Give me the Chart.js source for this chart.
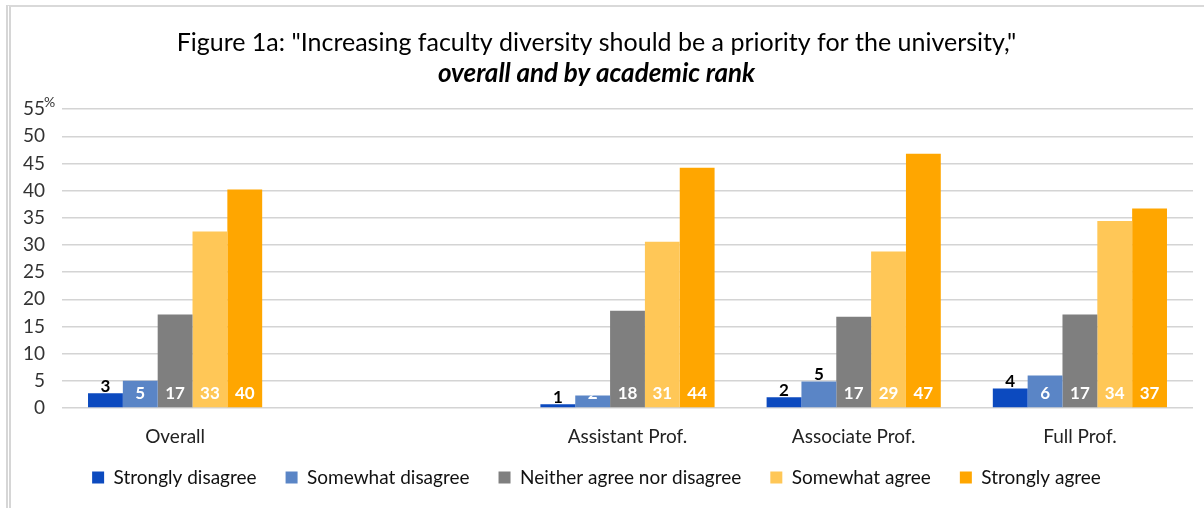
<!DOCTYPE html>
<html>
<head>
<meta charset="utf-8">
<script src="https://cdn.jsdelivr.net/npm/chart.js@4"></script>
<style>
  body { margin: 0; background: #fff; }
  #wrap { position: relative; width: 1204px; height: 508px; overflow: hidden; }
  #frame { position: absolute; left: 6px; top: 5px; right: -20px; bottom: -20px;
           border-top: 2px solid #d9d9d9; border-left: 5px double #d6d6d6; pointer-events: none; }
  canvas { position: absolute; left: 0; top: 0; }
</style>
</head>
<body>
<div id="wrap">
  <canvas id="c" width="1204" height="508"></canvas>
  <div id="frame"></div>
</div>
<script>
// groups along the x axis (blank slot separates Overall from the ranks)
const categories = ["Overall", "", "Assistant Prof.", "Associate Prof.", "Full Prof."];
const responses = ["Strongly disagree", "Somewhat disagree", "Neither agree nor disagree", "Somewhat agree", "Strongly agree"];

// percent of respondents
const stronglyDisagree = [2.7, null, 0.7, 2.0, 3.6];
const somewhatDisagree = [5.0, null, 2.3, 4.9, 6.0];
const neitherAgree     = [17.2, null, 17.9, 16.8, 17.2];
const somewhatAgree    = [32.5, null, 30.6, 28.8, 34.4];
const stronglyAgree    = [40.2, null, 44.2, 46.8, 36.7];

const yTicks = [0, 5, 10, 15, 20, 25, 30, 35, 40, 45, 50, 55];

const colors = ["#0c4abf", "#5a85c6", "#7f7f7f", "#ffc757", "#ffa600"];
const FONT = "Lato, 'Open Sans', sans-serif";

const series = [stronglyDisagree, somewhatDisagree, neitherAgree, somewhatAgree, stronglyAgree];

// value labels: small bars get a dark label on top, the rest a white one at the base
const labelAbove = (ds, i) => ds === 0 || (ds === 1 && i === 3);

const barLabels = {
  id: "barLabels",
  afterDatasetsDraw(chart) {
    const ctx = chart.ctx;
    ctx.save();
    ctx.font = "bold 17px " + FONT;
    ctx.textAlign = "center";
    chart.data.datasets.forEach((ds, di) => {
      const meta = chart.getDatasetMeta(di);
      meta.data.forEach((bar, i) => {
        const v = ds.data[i];
        if (v == null) return;
        const txt = String(Math.round(v));
        if (labelAbove(di, i)) {
          ctx.fillStyle = "#000";
          ctx.textBaseline = "alphabetic";
          ctx.fillText(txt, bar.x, bar.y - 1);
        } else {
          ctx.save();
          ctx.beginPath();
          ctx.rect(bar.x - bar.width / 2, bar.y, bar.width, bar.base - bar.y);
          ctx.clip();
          ctx.fillStyle = "#fff";
          ctx.textBaseline = "middle";
          ctx.fillText(txt, bar.x, bar.base - 14);
          ctx.restore();
        }
      });
    });
    ctx.restore();
  }
};

// small "%" next to the top tick
const percentMark = {
  id: "percentMark",
  afterDraw(chart) {
    const y = chart.scales.y;
    const ctx = chart.ctx;
    ctx.save();
    ctx.font = "14px " + FONT;
    ctx.fillStyle = "#333";
    ctx.textAlign = "left";
    ctx.textBaseline = "middle";
    ctx.fillText("%", 44, y.getPixelForValue(55) - 7);
    ctx.restore();
  }
};

// pull the legend row up a little, closer to the category labels
const legendLift = {
  id: "legendLift",
  afterLayout(chart) {
    const lg = chart.legend;
    if (!lg) return;
    lg.top -= 10;
    lg.bottom -= 10;
  }
};

new Chart(document.getElementById("c"), {
  type: "bar",
  data: {
    labels: categories,
    datasets: series.map((d, k) => ({
      label: responses[k],
      data: d,
      backgroundColor: colors[k],
      borderWidth: 0,
      barPercentage: 1,
      categoryPercentage: 0.77
    }))
  },
  options: {
    responsive: false,
    animation: false,
    layout: { padding: { left: 0, right: 11, top: 0, bottom: 1 } },
    plugins: {
      tooltip: { enabled: false },
      title: {
        display: true,
        text: 'Figure 1a: "Increasing faculty diversity should be a priority for the university,"',
        color: "#000",
        font: { family: FONT, size: 25, weight: "normal" },
        padding: { top: 28, bottom: 0 }
      },
      subtitle: {
        display: true,
        text: "overall and by academic rank",
        color: "#000",
        font: { family: FONT, size: 26, weight: "bold", style: "italic" },
        padding: { top: 0, bottom: 20 }
      },
      legend: {
        position: "bottom",
        labels: {
          color: "#111",
          font: { family: FONT, size: 19 },
          boxWidth: 12,
          boxHeight: 12,
          padding: 29
        }
      }
    },
    scales: {
      x: {
        afterFit(scale) { scale.height = 41; },
        grid: { display: false, drawTicks: false },
        border: { display: false },
        ticks: { color: "#222", font: { family: FONT, size: 19 }, padding: 17, maxRotation: 0 }
      },
      y: {
        min: 0,
        max: 55,
        afterBuildTicks(scale) { scale.ticks = yTicks.map(v => ({ value: v })); },
        afterFit(scale) { scale.width = 62; },
        grid: { color: "#d4d4d4", lineWidth: 1.5, drawTicks: false },
        border: { display: false },
        ticks: { color: "#333", font: { family: FONT, size: 19 }, padding: 17, autoSkip: false }
      }
    }
  },
  plugins: [barLabels, percentMark, legendLift]
});
</script>
</body>
</html>
